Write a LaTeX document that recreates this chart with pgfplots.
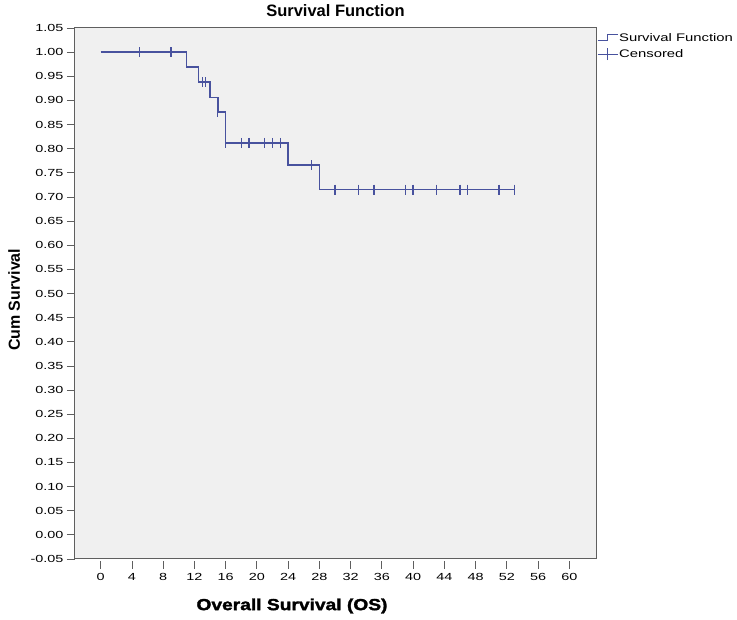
\documentclass[border=0pt]{standalone}
\usepackage{pgfplots}
\pgfplotsset{compat=1.18}
\usepackage{fontspec}
\setmainfont{Liberation Sans}
\newfontfamily\widefont[FakeStretch=1.4]{Liberation Sans}
\newfontfamily\legfont[FakeStretch=1.35]{Liberation Sans}
\newfontfamily\xlabfont[FakeStretch=1.2,FakeBold=2]{Liberation Sans Bold}
\definecolor{kmblue}{RGB}{72,82,158}
\definecolor{framegray}{RGB}{95,95,95}
\definecolor{bggray}{RGB}{240,240,240}
\begin{document}
\begin{tikzpicture}
\path[use as bounding box] (-75pt,-61pt) rectangle (662pt,559pt);
\begin{axis}[
  at={(0pt,0pt)}, anchor=south west,
  scale only axis, width=521pt, height=531pt,
  xmin=-3.29, xmax=63.42, ymin=-0.05, ymax=1.05,
  xtick={0,4,...,60},
  ytick={-0.05,0,0.05,0.10,0.15,0.20,0.25,0.30,0.35,0.40,0.45,0.50,0.55,0.60,0.65,0.70,0.75,0.80,0.85,0.90,0.95,1.00,1.05},
  yticklabel style={/pgf/number format/.cd,fixed,fixed zerofill,precision=2,assume math mode=true},
  xticklabel style={/pgf/number format/assume math mode=true},
  tick label style={font=\widefont\fontsize{10.3}{12}\selectfont, text=black},
  tick align=outside,
  major tick length=8pt,
  xtick style={yshift=-2pt, draw=framegray, line width=0.8pt},
  ytick style={draw=framegray, line width=0.8pt},
  xticklabel style={yshift=-3pt},
  xtick pos=bottom, ytick pos=left,
  axis line style={draw=framegray, line width=1pt},
  axis background/.style={fill=bggray},
  title={\bfseries\fontsize{16.5}{18}\selectfont Survival Function},
  title style={at={(axis description cs:0.5,1)}, anchor=south, yshift=2pt},
  xlabel={\xlabfont\fontsize{16}{18}\selectfont Overall Survival (OS)},
  xlabel style={at={(axis description cs:0.4165,-0.0885)}, anchor=center},
  ylabel={\bfseries\fontsize{16}{18}\selectfont Cum Survival},
  ylabel style={at={(axis description cs:-0.117,0.488)}, anchor=center},
  legend style={at={(axis description cs:1,1)}, anchor=north west, draw=none, fill=none,
    font=\legfont\fontsize{11}{13}\selectfont, row sep=4pt, xshift=1pt, yshift=-4pt,
    inner sep=0pt, nodes={inner sep=1pt}},
  legend cell align=left,
]
\addplot[const plot, kmblue, line width=1.4pt,
  legend image code/.code={\draw[kmblue, line width=0.9pt] (0pt,-3pt) -- (10pt,-3pt) -- (10pt,3pt) -- (20pt,3pt);}]
  coordinates {(0,1.000) (11,0.969) (12.5,0.938) (14,0.906) (15,0.876) (16,0.812) (24,0.766) (28,0.715) (53,0.715)};
\addlegendentry{Survival Function}
\addplot[only marks, mark=|, mark size=5pt, kmblue, mark options={line width=1.2pt},
  legend image code/.code={\draw[kmblue, line width=0.9pt] (0pt,0pt) -- (20pt,0pt); \draw[kmblue, line width=0.9pt] (10pt,-6pt) -- (10pt,6pt);}]
  coordinates {(5,1.000) (9,1.000) (13,0.938) (13.4,0.938) (15,0.876) (16,0.812) (18,0.812) (19,0.812) (21,0.812) (22,0.812) (23,0.812) (27,0.766) (30,0.715) (33,0.715) (35,0.715) (39,0.715) (40,0.715) (43,0.715) (46,0.715) (47,0.715) (51,0.715) (53,0.715)};
\addlegendentry{Censored}
\end{axis}
\end{tikzpicture}
\end{document}
